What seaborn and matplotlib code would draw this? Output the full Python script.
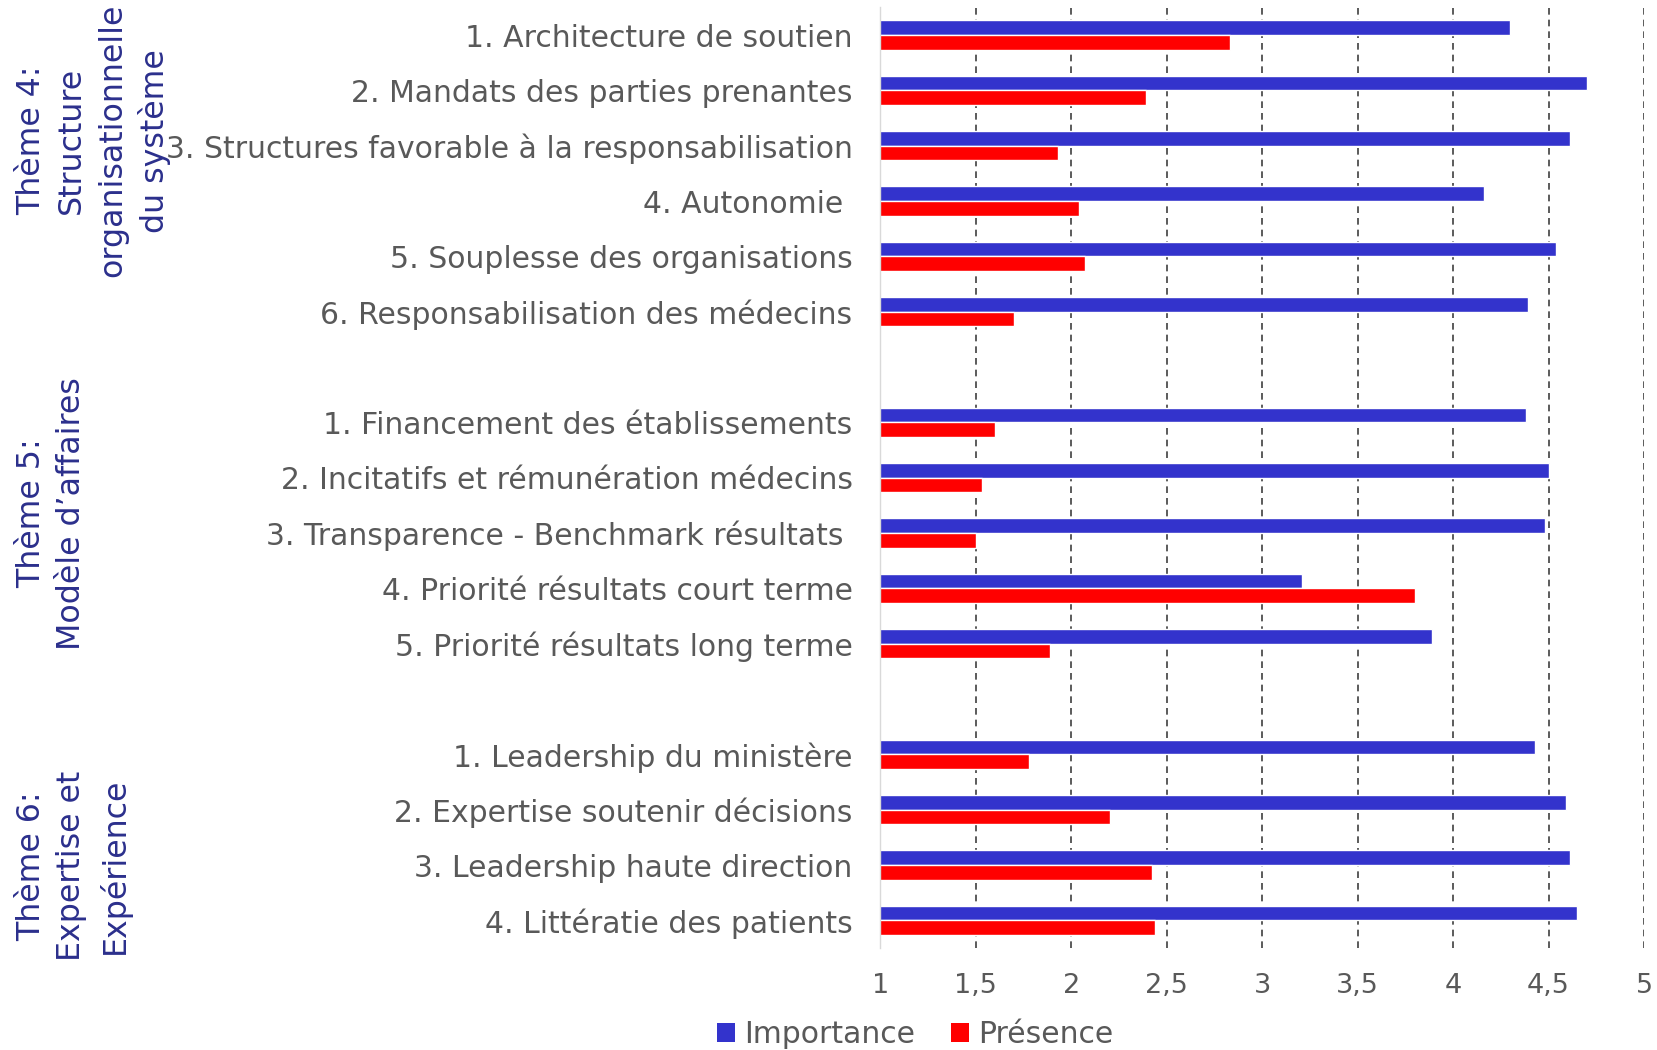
import matplotlib
matplotlib.use("Agg")
import matplotlib.pyplot as plt
import matplotlib.transforms as mtransforms
from matplotlib.patches import Patch
import pandas as pd
import seaborn as sns

# ---------------- data ----------------
theme4_labels = [
    "1. Architecture de soutien",
    "2. Mandats des parties prenantes",
    "3. Structures favorable à la responsabilisation",
    "4. Autonomie ",
    "5. Souplesse des organisations",
    "6. Responsabilisation des médecins",
]
theme4_importance = [4.30, 4.70, 4.61, 4.16, 4.54, 4.39]
theme4_presence = [2.83, 2.39, 1.93, 2.04, 2.07, 1.70]

theme5_labels = [
    "1. Financement des établissements",
    "2. Incitatifs et rémunération médecins",
    "3. Transparence - Benchmark résultats ",
    "4. Priorité résultats court terme",
    "5. Priorité résultats long terme",
]
theme5_importance = [4.38, 4.50, 4.48, 3.21, 3.89]
theme5_presence = [1.60, 1.53, 1.50, 3.80, 1.89]

theme6_labels = [
    "1. Leadership du ministère",
    "2. Expertise soutenir décisions",
    "3. Leadership haute direction",
    "4. Littératie des patients",
]
theme6_importance = [4.43, 4.59, 4.61, 4.65]
theme6_presence = [1.78, 2.20, 2.42, 2.44]

theme_titles = [
    "Thème 4:\nStructure\norganisationnelle\ndu système",
    "Thème 5:\nModèle d’affaires",
    "Thème 6:\nExpertise et\nExpérience",
]

series_names = ["Importance", "Présence"]
x_ticks = [1, 1.5, 2, 2.5, 3, 3.5, 4, 4.5, 5]
x_tick_labels = ["1", "1,5", "2", "2,5", "3", "3,5", "4", "4,5", "5"]

# ---------------- build long table ----------------
rows = []
for labs, imp, pres in [
    (theme4_labels, theme4_importance, theme4_presence),
    (theme5_labels, theme5_importance, theme5_presence),
    (theme6_labels, theme6_importance, theme6_presence),
]:
    for lab, a, b in zip(labs, imp, pres):
        rows.append({"Critère": lab, "Série": series_names[0], "Score": a})
        rows.append({"Critère": lab, "Série": series_names[1], "Score": b})
df = pd.DataFrame(rows)

order = theme4_labels + [" "] + theme5_labels + ["  "] + theme6_labels

# ---------------- style ----------------
sns.set_theme(style="white")
plt.rcParams["font.family"] = ["DejaVu Sans"]

text_gray = "#595959"
navy = "#2B2F8C"
blue = "#3333CC"
red = "#FF0000"

fig, ax = plt.subplots(figsize=(16.58, 10.5), dpi=100)
fig.subplots_adjust(left=0.531, right=0.9916, top=0.993, bottom=0.097)

sns.barplot(
    data=df, y="Critère", x="Score", hue="Série",
    order=order, hue_order=series_names,
    palette={series_names[0]: blue, series_names[1]: red},
    orient="h", width=0.53, saturation=1, legend=False, ax=ax,
)

ax.set_xlim(1, 5)
ax.set_ylim(len(order) - 0.5, -0.5)
ax.set_xticks(x_ticks)
ax.set_xticklabels(x_tick_labels)
ax.set_xlabel("")
ax.set_ylabel("")

ax.tick_params(axis="x", length=0, pad=18, labelsize=19.5, labelcolor=text_gray)
ax.tick_params(axis="y", length=0, pad=20, labelsize=21.5, labelcolor=text_gray)

ax.set_axisbelow(True)
ax.xaxis.grid(True, linestyle=(0, (4, 3)), color="#404040", linewidth=1.2)
ax.get_xgridlines()[0].set_visible(False)
ax.yaxis.grid(False)

for s in ["top", "right", "bottom"]:
    ax.spines[s].set_visible(False)
ax.spines["left"].set_color("#D9D9D9")
ax.spines["left"].set_linewidth(1.0)

# theme titles (rotated, left side)
trans = mtransforms.blended_transform_factory(fig.transFigure, ax.transData)
title_y = [1.91, 8.64, 15.02]
for t, yy in zip(theme_titles, title_y):
    ax.text(0.0095, yy, t, transform=trans, rotation=90, ha="left", va="center",
            multialignment="center", fontsize=22.8, color=navy, linespacing=1.4)

# legend
handles = [Patch(facecolor=blue, edgecolor="none"), Patch(facecolor=red, edgecolor="none")]
fig.legend(handles, series_names, loc="center", bbox_to_anchor=(0.552, 0.015),
           ncol=2, frameon=False, fontsize=21.5, labelcolor=text_gray,
           handlelength=0.6, handleheight=0.6, handletextpad=0.3, columnspacing=1.2)

fig.savefig("out.png", dpi=100)
